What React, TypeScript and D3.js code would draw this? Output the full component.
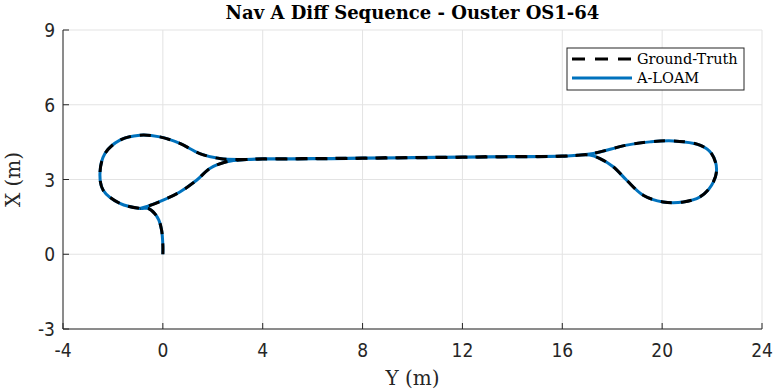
import React from "react";
import * as d3 from "d3";

// trajectory: Y (horizontal, m) and X (vertical, m)
const gtY = [0, 0, -0.05, -0.16, -0.32, -0.59, -0.92, -1.72, -2.39, -2.52, -2.32, -1.72, -0.92, -0.12, 0.68, 1.48, 2.28, 3.08, 4, 6, 8, 10, 12, 14, 16, 17.1, 18.58, 19.51, 20.44, 21.51, 21.98, 22.18, 21.98, 21.51, 20.85, 20.04, 19.24, 18.58, 18.04, 17.51, 17.1, 16, 14, 12, 10, 8, 6, 4, 3.35, 2.55, 1.88, 1.35, 0.68, 0.01, -0.6, -0.92];
const gtX = [0, 0.36, 0.96, 1.37, 1.63, 1.84, 1.84, 2.04, 2.57, 3.24, 4.04, 4.58, 4.78, 4.71, 4.45, 4.04, 3.84, 3.8, 3.83, 3.84, 3.86, 3.88, 3.9, 3.92, 3.94, 4.02, 4.38, 4.51, 4.55, 4.38, 4.04, 3.37, 2.77, 2.3, 2.1, 2.1, 2.37, 2.97, 3.51, 3.84, 3.98, 3.93, 3.91, 3.89, 3.87, 3.85, 3.83, 3.82, 3.8, 3.71, 3.44, 2.97, 2.5, 2.17, 1.93, 1.84];
const aloamY = gtY;
const aloamX = gtX;

const yTicks = [-4, 0, 4, 8, 12, 16, 20, 24];
const xTicks = [-3, 0, 3, 6, 9];
const seriesNames = ["Ground-Truth", "A-LOAM"];

const W = 777, H = 391;
const m = { left: 63, right: 15, top: 30, bottom: 62 };
const BLUE = "#0072BD";
const SERIF = "'DejaVu Serif', 'Liberation Serif', serif";
const SANS = "'DejaVu Sans Condensed', 'DejaVu Sans', sans-serif";

export default function App() {
  const sx = d3.scaleLinear().domain([-4, 24]).range([m.left, W - m.right]);
  const sy = d3.scaleLinear().domain([-3, 9]).range([H - m.bottom, m.top]);

  const line = d3.line<[number, number]>()
    .x(d => sx(d[0]))
    .y(d => sy(d[1]))
    .curve(d3.curveCatmullRom.alpha(0.5));

  const gt = gtY.map((v, i) => [v, gtX[i]] as [number, number]);
  const al = aloamY.map((v, i) => [v, aloamX[i]] as [number, number]);

  const x0 = sx(-4), x1 = sx(24), y0 = sy(-3), y1 = sy(9);
  const lgX = 567, lgY = 48, lgW = 177, lgH = 42;

  return (
    <svg width={W} height={H} style={{ position: "absolute", left: 0, top: 0, background: "#fff" }}>
      {/* grid */}
      {yTicks.map(t => (
        <line key={"gy" + t} x1={sx(t)} x2={sx(t)} y1={y0} y2={y1} stroke="#e3e3e3" strokeWidth={1} />
      ))}
      {xTicks.map(t => (
        <line key={"gx" + t} x1={x0} x2={x1} y1={sy(t)} y2={sy(t)} stroke="#e3e3e3" strokeWidth={1} />
      ))}

      {/* data */}
      <path d={line(al) ?? ""} fill="none" stroke={BLUE} strokeWidth={3} strokeLinejoin="round" />
      <path d={line(gt) ?? ""} fill="none" stroke="#000" strokeWidth={3} strokeDasharray="11,9" />

      {/* axes */}
      <line x1={x0} x2={x1} y1={y0} y2={y0} stroke="#262626" strokeWidth={1} />
      <line x1={x0} x2={x0} y1={y0} y2={y1} stroke="#262626" strokeWidth={1} />
      {yTicks.map(t => (
        <g key={"ty" + t}>
          <line x1={sx(t)} x2={sx(t)} y1={y0} y2={y0 - 6} stroke="#262626" />
          <text x={sx(t)} y={y0 + 28} textAnchor="middle" fontFamily={SANS} fontSize={19} fill="#262626">{t}</text>
        </g>
      ))}
      {xTicks.map(t => (
        <g key={"tx" + t}>
          <line x1={x0} x2={x0 + 6} y1={sy(t)} y2={sy(t)} stroke="#262626" />
          <text x={x0 - 8} y={sy(t) + 7} textAnchor="end" fontFamily={SANS} fontSize={19} fill="#262626">{t}</text>
        </g>
      ))}

      {/* labels */}
      <text x={(x0 + x1) / 2} y={19} textAnchor="middle" fontFamily={SERIF} fontWeight="bold" fontSize={18} fill="#000">
        Nav A Diff Sequence - Ouster OS1-64
      </text>
      <text x={(x0 + x1) / 2} y={385} textAnchor="middle" fontFamily={SERIF} fontSize={20} fill="#262626">Y (m)</text>
      <text transform={`translate(20,${(y0 + y1) / 2}) rotate(-90)`} textAnchor="middle" fontFamily={SERIF} fontSize={20} fill="#262626">X (m)</text>

      {/* legend */}
      <rect x={lgX} y={lgY} width={lgW} height={lgH} fill="#fff" stroke="#262626" strokeWidth={1} />
      <line x1={lgX + 5} x2={lgX + 65} y1={lgY + 11} y2={lgY + 11} stroke="#000" strokeWidth={3} strokeDasharray="13,10" />
      <text x={lgX + 70} y={lgY + 16} fontFamily={SERIF} fontSize={14.5} fill="#000">{seriesNames[0]}</text>
      <line x1={lgX + 5} x2={lgX + 65} y1={lgY + 30} y2={lgY + 30} stroke={BLUE} strokeWidth={3} />
      <text x={lgX + 70} y={lgY + 35} fontFamily={SERIF} fontSize={14.5} fill="#000">{seriesNames[1]}</text>
    </svg>
  );
}
